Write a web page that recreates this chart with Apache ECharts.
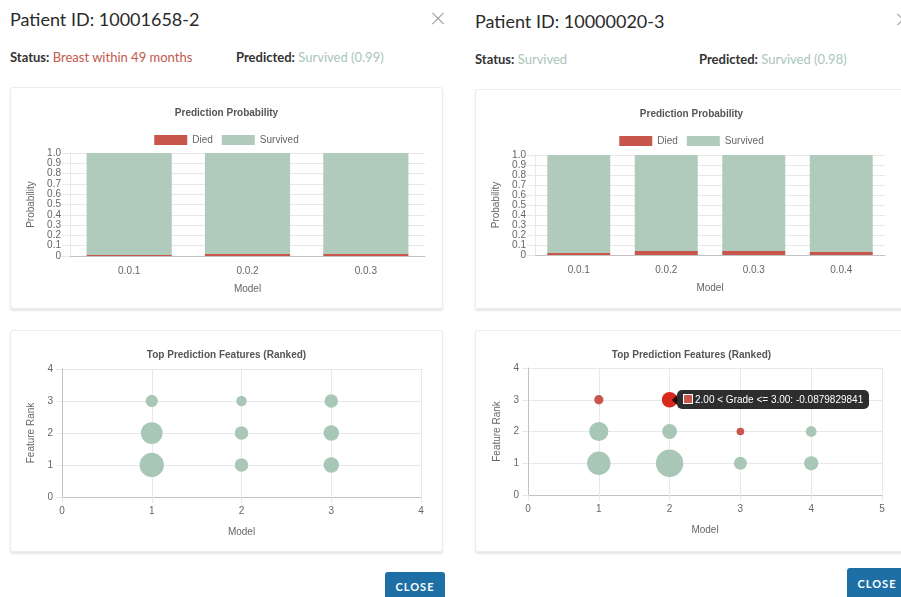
<!DOCTYPE html>
<html><head><meta charset="utf-8">
<script src="https://cdn.jsdelivr.net/npm/echarts@6/dist/echarts.min.js"></script>
<style>
html,body{margin:0;padding:0;background:#fff;width:901px;height:597px;overflow:hidden;position:relative;}
.panel{position:absolute;top:0;width:465px;height:597px;}
.ptitle{position:absolute;left:10px;font-family:Lato,sans-serif;font-weight:400;font-size:18px;line-height:18px;color:#2a2a2a;white-space:nowrap;}
.close-x{position:absolute;width:14px;height:14px;}
.close-x:before,.close-x:after{content:'';position:absolute;left:-1px;top:6.5px;width:16px;height:1.2px;background:#9a9a9a;}
.close-x:before{transform:rotate(45deg)}
.close-x:after{transform:rotate(-45deg)}
.status{position:absolute;font-family:Lato,sans-serif;font-size:13px;line-height:13px;white-space:nowrap;color:#333}
.status b{font-weight:700;color:#333}
.card{position:absolute;left:10px;width:433px;background:#fff;border-radius:3px;box-shadow:inset 0 0 0 1px #ececec,0 2px 2px rgba(0,0,0,0.10);}
.chart{position:absolute;left:0;top:0;width:100%;height:100%;}
.btn{position:absolute;width:60px;height:36px;background:#1d6fa5;border-radius:3px;color:#fff;font-family:Lato,sans-serif;font-weight:700;font-size:11px;letter-spacing:1px;text-align:center;}
</style>
</head>
<body>
<script>
// ---- data ----
const leftModels = ['0.0.1', '0.0.2', '0.0.3'];
const leftDied = [0.01, 0.02, 0.02];
const leftSurvived = [0.99, 0.98, 0.98];

const rightModels = ['0.0.1', '0.0.2', '0.0.3', '0.0.4'];
const rightDied = [0.02, 0.04, 0.04, 0.03];
const rightSurvived = [0.98, 0.96, 0.96, 0.97];

const leftBubbleModel = [1, 1, 1, 2, 2, 2, 3, 3, 3];
const leftBubbleRank = [3, 2, 1, 3, 2, 1, 3, 2, 1];
const leftBubbleWeight = [0.082, 0.145, 0.162, 0.070, 0.090, 0.090, 0.090, 0.103, 0.103];

const rightBubbleModel = [1, 1, 1, 2, 2, 2, 3, 3, 4, 4];
const rightBubbleRank = [3, 2, 1, 3, 2, 1, 2, 1, 2, 1];
const rightBubbleWeight = [-0.062, 0.128, 0.156, -0.0879829841, 0.099, 0.182, -0.051, 0.087, 0.072, 0.095];

const hoveredIndex = 3;
const hoveredFeature = '2.00 < Grade <= 3.00';

const leftHeader = { id: '10001658-2', status: 'Breast within 49 months', statusDied: true, predicted: 'Survived (0.99)' };
const rightHeader = { id: '10000020-3', status: 'Survived', statusDied: false, predicted: 'Survived (0.98)' };

// ---- styles ----
const FONT = "'Liberation Sans', Arial, sans-serif";
const RED = '#c8564c';
const GREEN = '#b0cbbb';
const BUBBLE_GREEN = '#a9c7b6';
const HOVER_RED = '#d7281e';
const TXT = '#666';
const GRIDC = '#e8e8e8';
const ZEROC = '#c2c2c2';
const BUBBLE_SCALE = 150;
const RED_TEXT = '#c2584e';
const GREEN_TEXT = '#a9c6b9';

function el(tag, cls, parent, css) {
  const e = document.createElement(tag);
  if (cls) e.className = cls;
  if (css) Object.assign(e.style, css);
  parent.appendChild(e);
  return e;
}

function buildPanel(x, hdr, lay) {
  const p = el('div', 'panel', document.body, { left: x + 'px' });
  const t = el('div', 'ptitle', p, { top: (10 + lay.dy) + 'px' });
  t.textContent = 'Patient ID: ' + hdr.id;
  el('div', 'close-x', p, { left: '431px', top: (11 + lay.dy) + 'px' });
  const s = el('div', 'status', p, { left: '10px', top: (51 + lay.dy) + 'px' });
  s.innerHTML = '<b>Status:</b> <span style="color:' + (hdr.statusDied ? RED_TEXT : GREEN_TEXT) + '">' + hdr.status + '</span>';
  const pr = el('div', 'status', p, { left: lay.predX + 'px', top: (51 + lay.dy) + 'px' });
  pr.innerHTML = '<b>Predicted:</b> <span style="color:' + GREEN_TEXT + '">' + hdr.predicted + '</span>';
  const c1 = el('div', 'card', p, { top: lay.card1Top + 'px', height: lay.card1H + 'px' });
  const c2 = el('div', 'card', p, { top: '330px', height: '222px' });
  const b = el('div', 'btn', p, { left: lay.btnX + 'px', top: lay.btnY + 'px', lineHeight: lay.btnLH + 'px' });
  b.textContent = 'CLOSE';
  return { bar: el('div', 'chart', c1), bub: el('div', 'chart', c2) };
}

function barOption(models, died, survived, g) {
  return {
    animation: false,
    textStyle: { fontFamily: FONT },
    title: { text: 'Prediction Probability', left: 'center', top: g.titleTop, padding: 0,
      textStyle: { fontSize: 10, fontWeight: 'bold', color: '#555', fontFamily: FONT } },
    legend: { top: g.legendTop, left: 'center', padding: 0, itemWidth: 33, itemHeight: 10, itemGap: 9,
      icon: 'rect', selectedMode: false, data: ['Died', 'Survived'],
      textStyle: { fontSize: 10, color: TXT, fontFamily: FONT } },
    grid: { left: g.left, right: g.right, top: g.top, bottom: g.bottom, containLabel: false, outerBoundsMode: 'none' },
    xAxis: {
      type: 'category', data: models,
      axisLine: { lineStyle: { color: ZEROC } }, axisTick: { show: false },
      axisLabel: { fontSize: 10, color: TXT, margin: 10, fontFamily: FONT },
      splitLine: { show: false },
      name: 'Model', nameLocation: 'middle', nameGap: 28,
      nameTextStyle: { fontSize: 10, color: TXT, fontFamily: FONT }
    },
    yAxis: {
      type: 'value', min: 0, max: 1, interval: 0.1,
      axisLine: { show: true, lineStyle: { color: GRIDC } },
      axisTick: { show: true, length: 8, lineStyle: { color: GRIDC } },
      axisLabel: { fontSize: 10, color: TXT, margin: 9, fontFamily: FONT,
        formatter: v => v === 0 ? '0' : v.toFixed(1) },
      splitLine: { show: true, lineStyle: { color: GRIDC } },
      name: 'Probability', nameLocation: 'middle', nameGap: 30,
      nameTextStyle: { fontSize: 10, color: TXT, fontFamily: FONT }
    },
    series: [
      { name: 'Died', type: 'bar', stack: 'p', data: died, itemStyle: { color: RED }, barCategoryGap: '28%' },
      { name: 'Survived', type: 'bar', stack: 'p', data: survived, itemStyle: { color: GREEN }, barCategoryGap: '28%' }
    ]
  };
}

function bubbleOption(models, ranks, weights, g, withTip) {
  const opt = {
    animation: false,
    textStyle: { fontFamily: FONT },
    title: { text: 'Top Prediction Features (Ranked)', left: 'center', top: g.titleTop, padding: 0,
      textStyle: { fontSize: 10, fontWeight: 'bold', color: '#555', fontFamily: FONT } },
    grid: { left: g.left, right: g.right, top: g.top, bottom: g.bottom, containLabel: false, outerBoundsMode: 'none' },
    xAxis: {
      type: 'value', min: 0, max: g.xMax, interval: 1,
      axisLine: { show: true, onZero: false, lineStyle: { color: ZEROC } },
      axisTick: { show: true, length: 6, lineStyle: { color: GRIDC } },
      axisLabel: { fontSize: 10, color: TXT, margin: 9, fontFamily: FONT },
      splitLine: { show: true, lineStyle: { color: GRIDC } },
      name: 'Model', nameLocation: 'middle', nameGap: 30,
      nameTextStyle: { fontSize: 10, color: TXT, fontFamily: FONT }
    },
    yAxis: {
      type: 'value', min: 0, max: 4, interval: 1,
      axisLine: { show: true, onZero: false, lineStyle: { color: ZEROC } },
      axisTick: { show: true, length: 6, lineStyle: { color: GRIDC } },
      axisLabel: { fontSize: 10, color: TXT, margin: 9, fontFamily: FONT },
      splitLine: { show: true, lineStyle: { color: GRIDC } },
      name: 'Feature Rank', nameLocation: 'middle', nameGap: 22,
      nameTextStyle: { fontSize: 10, color: TXT, fontFamily: FONT }
    },
    series: [{
      type: 'scatter',
      data: models.map((m, i) => [m, ranks[i], weights[i]]),
      symbolSize: v => Math.abs(v[2]) * BUBBLE_SCALE,
      itemStyle: { color: p => p.data[2] < 0 ? RED : BUBBLE_GREEN, opacity: 1 },
      emphasis: { scale: 1.18, itemStyle: { color: HOVER_RED } }
    }]
  };
  if (withTip) {
    opt.tooltip = {
      trigger: 'item', triggerOn: 'none', alwaysShowContent: true, transitionDuration: 0, showDelay: 0,
      backgroundColor: 'rgba(0,0,0,0.82)', borderWidth: 0, padding: [3, 6],
      textStyle: { color: '#fff', fontSize: 10, fontFamily: FONT, lineHeight: 13 },
      extraCssText: 'border-radius:5px;box-shadow:none;white-space:nowrap;',
      position: function (point, params, dom, rect, size) {
        if (rect) return [rect.x + rect.width + 1, rect.y + rect.height / 2 - size.contentSize[1] / 2];
        return [point[0] + 8, point[1] - size.contentSize[1] / 2];
      },
      formatter: function (p) {
        const esc = s => String(s).replace(/&/g, '&amp;').replace(/</g, '&lt;').replace(/>/g, '&gt;');
        return '<span style="position:absolute;left:-5px;top:50%;margin-top:-5px;width:0;height:0;border-style:solid;border-width:5px 5px 5px 0;border-color:transparent rgba(0,0,0,0.82) transparent transparent;"></span>' +
          '<span style="display:inline-block;width:8px;height:8px;background:' + RED + ';border:1px solid #fff;vertical-align:-1px;margin-right:2px;"></span>' +
          esc(hoveredFeature) + ': ' + p.data[2];
      }
    };
  }
  return opt;
}

const L = buildPanel(0, leftHeader, { dy: 0, predX: 236, card1Top: 87, card1H: 222, btnX: 385, btnY: 572, btnLH: 30 });
const R = buildPanel(465, rightHeader, { dy: 1.5, predX: 234, card1Top: 89, card1H: 220, btnX: 382, btnY: 568, btnLH: 32 });

const cL1 = echarts.init(L.bar, null, { renderer: 'canvas' });
cL1.setOption(barOption(leftModels, leftDied, leftSurvived,
  { titleTop: 21, legendTop: 48, left: 60, right: 18, top: 66, bottom: 53 }));

const cR1 = echarts.init(R.bar, null, { renderer: 'canvas' });
cR1.setOption(barOption(rightModels, rightDied, rightSurvived,
  { titleTop: 20, legendTop: 47, left: 60, right: 23, top: 66, bottom: 54 }));

const cL2 = echarts.init(L.bub, null, { renderer: 'canvas' });
cL2.setOption(bubbleOption(leftBubbleModel, leftBubbleRank, leftBubbleWeight,
  { titleTop: 20, left: 52, right: 22, top: 39, bottom: 55, xMax: 4 }, false));

const cR2 = echarts.init(R.bub, null, { renderer: 'canvas' });
cR2.setOption(bubbleOption(rightBubbleModel, rightBubbleRank, rightBubbleWeight,
  { titleTop: 20, left: 53, right: 26, top: 38, bottom: 57, xMax: 5 }, true));
cR2.dispatchAction({ type: 'highlight', seriesIndex: 0, dataIndex: hoveredIndex });
cR2.dispatchAction({ type: 'showTip', seriesIndex: 0, dataIndex: hoveredIndex });
</script>
</body></html>
